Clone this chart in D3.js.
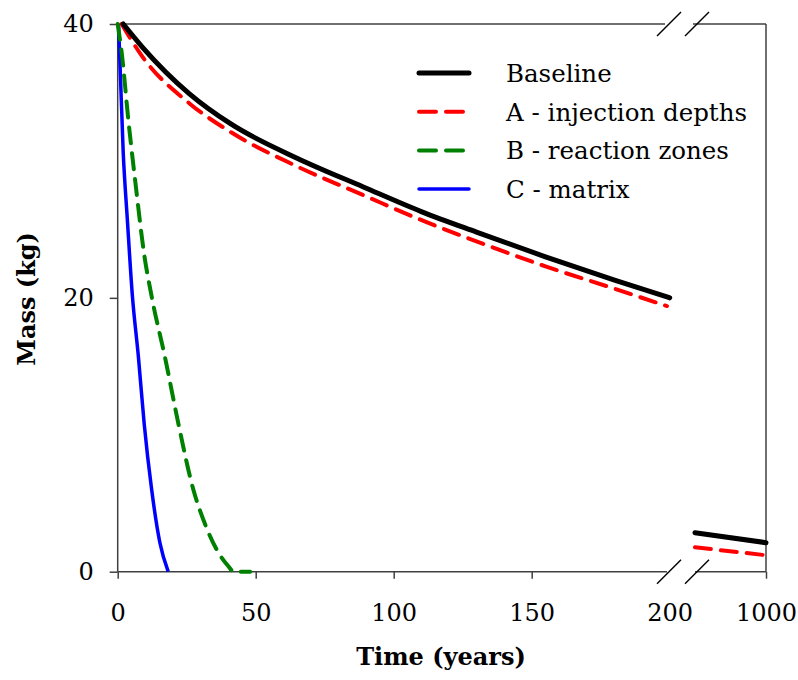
<!DOCTYPE html>
<html><head><meta charset="utf-8">
<script src="https://cdn.jsdelivr.net/npm/d3@7"></script>
<style>
html,body{margin:0;padding:0;background:#fff;}
</style></head>
<body>
<svg id="chart" width="798" height="680"></svg>
<script>
// ---- data ----
const seriesNames = ["Baseline", "A - injection depths", "B - reaction zones", "C - matrix"];
const seriesColors = ["#000000", "#ff0000", "#008000", "#0000ff"];

const baselineT = [2, 9, 26, 41, 65, 89, 110, 130, 155, 180, 200];
const baselineV = [40, 38.3, 34.9, 32.7, 30.2, 28.1, 26.3, 24.8, 23.0, 21.3, 20.0];
const baselineLateT = [900, 1000];
const baselineLateV = [2.85, 2.12];

const injectionT = [1.4, 9, 26, 41, 65, 89, 111, 133, 155, 178, 199];
const injectionV = [40, 37.6, 34.2, 32.1, 29.6, 27.5, 25.6, 23.9, 22.3, 20.8, 19.4];
const injectionLateT = [900, 1000];
const injectionLateV = [1.78, 1.2];

const reactionT = [0, 1.45, 3.85, 6.6, 9.5, 12.3, 17.1, 22, 27.4, 31.6, 35.9, 40.1, 42, 48];
const reactionV = [40, 37.9, 33.0, 28.1, 23.3, 20.1, 15.7, 10.8, 6.0, 3.5, 1.6, 0.4, 0, 0];

const matrixT = [0.3, 2.0, 3.5, 5.3, 7.5, 9.6, 12.3, 15.3, 18.3];
const matrixV = [40, 30.6, 25.7, 20.2, 15.7, 10.8, 6.0, 2.1, 0];

const xTicksMain = [0, 50, 100, 150, 200];
const xTicksLate = [1000];
const yTicks = [0, 20, 40];

const FONT = '"DejaVu Serif", serif';

// ---- scales ----
const svg = d3.select("#chart");
const x1 = d3.scaleLinear().domain([0, 200]).range([117.7, 669.7]);
const x2 = d3.scaleLinear().domain([900, 1000]).range([695, 766]);
const y = d3.scaleLinear().domain([0, 40]).range([571.7, 24]);

const axisColor = "#404040";
const pLeft = x1(0), pRight = x2(1000), pTop = y(40), pBottom = y(0);
const brk1 = x1(200) - 0.7, brk2 = brk1 + 28;

// frame
const frame = svg.append("g").attr("stroke", axisColor).attr("stroke-width", 1.5).attr("fill", "none");
frame.append("line").attr("x1", pLeft).attr("x2", pLeft).attr("y1", pTop).attr("y2", pBottom);
frame.append("line").attr("x1", pRight).attr("x2", pRight).attr("y1", pTop).attr("y2", pBottom);
frame.append("line").attr("x1", pLeft).attr("x2", brk1 - 4).attr("y1", pTop).attr("y2", pTop);
frame.append("line").attr("x1", brk2 - 4).attr("x2", pRight).attr("y1", pTop).attr("y2", pTop);
frame.append("line").attr("x1", pLeft).attr("x2", brk1 - 2).attr("y1", pBottom).attr("y2", pBottom);
frame.append("line").attr("x1", brk2 - 2).attr("x2", pRight).attr("y1", pBottom).attr("y2", pBottom);

// break marks
const brkG = svg.append("g").attr("stroke", "#000").attr("stroke-width", 1.5);
[pTop, pBottom].forEach(yy => {
  [brk1, brk2].forEach(bx => {
    brkG.append("line").attr("x1", bx - 12).attr("y1", yy + 12).attr("x2", bx + 12).attr("y2", yy - 12);
  });
});

// y axis ticks
const yAxis = d3.axisLeft(y).tickValues(yTicks).tickSize(8).tickPadding(16).tickFormat(d3.format("d"));
const gy = svg.append("g").attr("transform", `translate(${pLeft},0)`).call(yAxis);
gy.select(".domain").remove();
gy.selectAll("line").attr("stroke", axisColor).attr("stroke-width", 1.5);
gy.selectAll("text").attr("font-size", 24);

// x axis ticks
const xAxis1 = d3.axisBottom(x1).tickValues(xTicksMain).tickSize(7).tickPadding(25).tickFormat(d3.format("d"));
const gx1 = svg.append("g").attr("transform", `translate(0,${pBottom})`).call(xAxis1);
gx1.select(".domain").remove();
gx1.selectAll("line").attr("stroke", axisColor).attr("stroke-width", 1.5).attr("stroke-opacity", d => d === 200 ? 0 : 1);
gx1.selectAll("text").attr("font-size", 24);

const xAxis2 = d3.axisBottom(x2).tickValues(xTicksLate).tickSize(7).tickPadding(25).tickFormat(d3.format("d"));
const gx2 = svg.append("g").attr("transform", `translate(0,${pBottom})`).call(xAxis2);
gx2.select(".domain").remove();
gx2.selectAll("line").attr("stroke", axisColor).attr("stroke-width", 1.5);
gx2.selectAll("text").attr("font-size", 24);

// axis titles
svg.append("text").attr("x", 441).attr("y", 665).attr("text-anchor", "middle")
  .attr("font-size", 24).attr("font-weight", "bold").text("Time (years)");
svg.append("text").attr("transform", `translate(35,${y(20) + 1}) rotate(-90)`).attr("text-anchor", "middle")
  .attr("font-size", 24).attr("font-weight", "bold").text("Mass (kg)");

// lines
const zip = (ts, vs) => ts.map((t, i) => [t, vs[i]]);
const line1 = d3.line().x(d => x1(d[0])).y(d => y(d[1])).curve(d3.curveMonotoneX);
const line2 = d3.line().x(d => x2(d[0])).y(d => y(d[1]));

const styles = [
  {w: 5, dash: null, cap: "round"},
  {w: 4, dash: "16,10", cap: "round"},
  {w: 4, dash: "16,10", cap: "round"},
  {w: 3.5, dash: null, cap: "butt"}
];

const mainData = [zip(baselineT, baselineV), zip(injectionT, injectionV), zip(reactionT, reactionV), zip(matrixT, matrixV)];
const lateData = [zip(baselineLateT, baselineLateV), zip(injectionLateT, injectionLateV)];

const drawOrder = [3, 2, 1, 0];
drawOrder.forEach(i => {
  svg.append("path").datum(mainData[i]).attr("d", line1)
    .attr("fill", "none").attr("stroke", seriesColors[i]).attr("stroke-width", styles[i].w)
    .attr("stroke-dasharray", styles[i].dash).attr("stroke-linecap", styles[i].cap);
});
[1, 0].forEach(i => {
  svg.append("path").datum(lateData[i]).attr("d", line2)
    .attr("fill", "none").attr("stroke", seriesColors[i]).attr("stroke-width", styles[i].w)
    .attr("stroke-dasharray", styles[i].dash).attr("stroke-linecap", styles[i].cap);
});

// legend
const leg = svg.append("g");
seriesNames.forEach((name, i) => {
  const ly = 73 + i * 38.7;
  leg.append("line").attr("x1", 419).attr("x2", 469).attr("y1", ly).attr("y2", ly)
    .attr("stroke", seriesColors[i]).attr("stroke-width", i === 0 ? 5 : (i === 3 ? 3.5 : 4))
    .attr("stroke-dasharray", (i === 1 || i === 2) ? "17,10" : null)
    .attr("stroke-linecap", "round");
  leg.append("text").attr("x", 506).attr("y", ly + 9).attr("font-size", 24.5).text(name);
});

svg.selectAll("text").style("font-family", FONT).style("fill", "#000");
</script>
</body></html>
